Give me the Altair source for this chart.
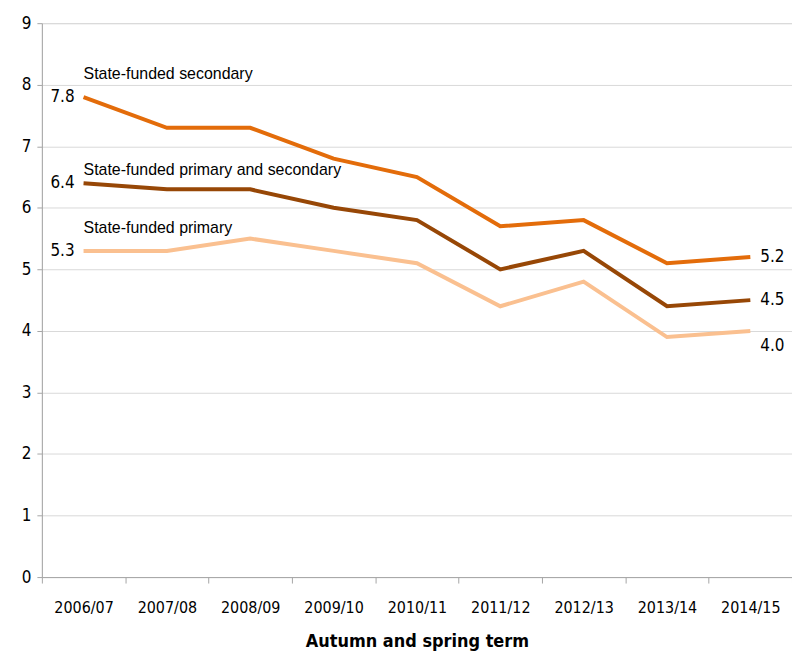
import altair as alt
import pandas as pd

years = ["2006/07", "2007/08", "2008/09", "2009/10", "2010/11",
         "2011/12", "2012/13", "2013/14", "2014/15"]
secondary = [7.8, 7.3, 7.3, 6.8, 6.5, 5.7, 5.8, 5.1, 5.2]
combined = [6.4, 6.3, 6.3, 6.0, 5.8, 5.0, 5.3, 4.4, 4.5]
primary = [5.3, 5.3, 5.5, 5.3, 5.1, 4.4, 4.8, 3.9, 4.0]

series_names = ["State-funded secondary", "State-funded primary and secondary", "State-funded primary"]
series_values = [secondary, combined, primary]
colors = ["#E36C0A", "#974706", "#FAC090"]

rows = []
for name, vals in zip(series_names, series_values):
    for y, v in zip(years, vals):
        rows.append({"year": y, "value": v, "series": name})
df = pd.DataFrame(rows)

AXFONT = "DejaVu Sans Condensed, Liberation Sans, sans-serif"
LBFONT = "Liberation Sans, sans-serif"

x_enc = alt.X("year:N", sort=years, bandPosition=0.5,
              scale=alt.Scale(type="band", paddingInner=0, paddingOuter=0),
              axis=alt.Axis(title="Autumn and spring term", labelAngle=0, tickBand="extent",
                            labelPadding=17, titlePadding=17, tickSize=6,
                            domainColor="#a6a6a6", tickColor="#a6a6a6",
                            labelFontSize=16, titleFontSize=18, titleFontWeight="bold",
                            labelFont=AXFONT, titleFont=AXFONT, labelColor="#000", titleColor="#000"))
y_enc = alt.Y("value:Q",
              scale=alt.Scale(domain=[0, 9], nice=False),
              axis=alt.Axis(title=None, values=list(range(10)), format="d", tickSize=5,
                            domainColor="#a6a6a6", tickColor="#a6a6a6",
                            gridColor="#d9d9d9", labelFontSize=17, labelFont=AXFONT,
                            labelColor="#000", labelPadding=6))

base = alt.Chart(df)

lines = base.mark_line(strokeWidth=4).encode(
    x=x_enc, y=y_enc,
    color=alt.Color("series:N", scale=alt.Scale(domain=series_names, range=colors), legend=None),
)

layers = [lines]

first_year = years[0]
last_year = years[-1]

name_dy = [-23, -13, -23]
for name, dy in zip(series_names, name_dy):
    d = df[(df.series == name) & (df.year == first_year)]
    layers.append(alt.Chart(d).mark_text(align="left", baseline="middle", dy=dy, dx=0,
                                         font=LBFONT, fontSize=16, color="#000").encode(
        x=alt.X("year:N", sort=years, bandPosition=0.5), y="value:Q", text="series:N"))

# starting value labels
d_first = df[df.year == first_year]
layers.append(alt.Chart(d_first).mark_text(align="right", baseline="middle", dx=-9,
                                           font=AXFONT, fontSize=17, color="#000").encode(
    x=alt.X("year:N", sort=years, bandPosition=0.5), y="value:Q",
    text=alt.Text("value:Q", format=".1f")))

# ending value labels
end_dy = [0, 0, 15]
for name, dy in zip(series_names, end_dy):
    d = df[(df.series == name) & (df.year == last_year)]
    layers.append(alt.Chart(d).mark_text(align="left", baseline="middle", dx=10, dy=dy,
                                         font=AXFONT, fontSize=17, color="#000").encode(
        x=alt.X("year:N", sort=years, bandPosition=0.5), y="value:Q",
        text=alt.Text("value:Q", format=".1f")))

chart = alt.layer(*layers).properties(
    width=753, height=556,
    autosize=alt.AutoSizeParams(type="none"),
    padding={"left": 34, "top": 14, "right": 0, "bottom": 80},
).configure_view(stroke=None).configure(background="white")

chart.save("out.html", embed_options={"renderer": "svg", "actions": False})
